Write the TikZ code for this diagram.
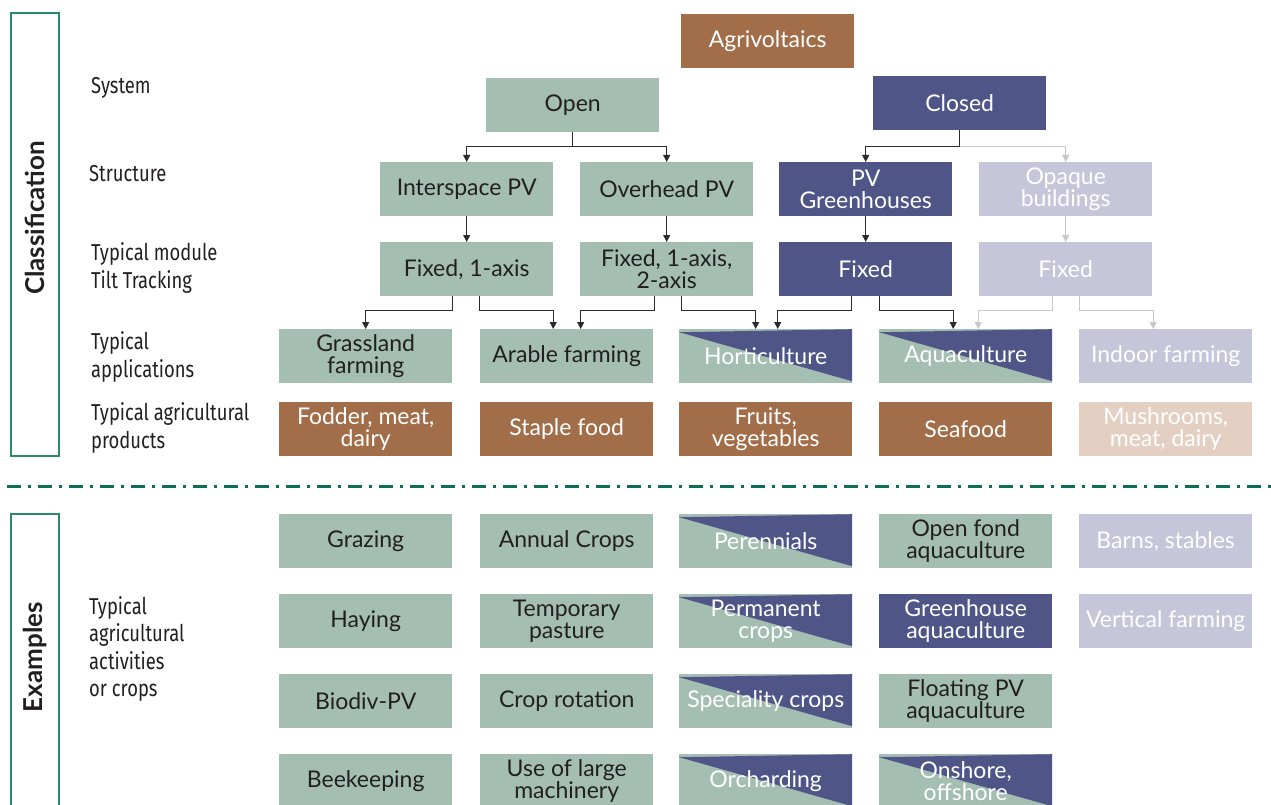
\documentclass[tikz,border=0pt]{standalone}
\usepackage{fontspec}
\setmainfont{Lato}
\newfontfamily\labelfont[FakeStretch=0.8]{Fira Sans}
\usetikzlibrary{arrows.meta,calc}
\definecolor{sage}{HTML}{A4BFB2}
\definecolor{navy}{HTML}{4F5587}
\definecolor{lav}{HTML}{C5C6DA}
\definecolor{brn}{HTML}{A26E4A}
\definecolor{lbrn}{HTML}{E3D0C3}
\definecolor{dgreen}{HTML}{0E6E55}
\definecolor{framec}{HTML}{2A8A6C}
\definecolor{txt}{HTML}{231F20}
\definecolor{arrowc}{HTML}{2B2B2B}
\definecolor{garrowc}{HTML}{C8C8C8}
\tikzset{
  box/.style={minimum width=173pt, minimum height=54pt, inner sep=0pt, align=center,
    anchor=north west, font=\fontsize{23}{21.5}\selectfont},
  gbox/.style={box, fill=sage, text=txt},
  nbox/.style={box, fill=navy, text=white},
  lbox/.style={box, fill=lav, text=white},
  bbox/.style={box, fill=brn, text=white},
  lbbox/.style={box, fill=lbrn, text=white},
  sbox/.style={box, fill=sage, text=white, path picture={
      \fill[navy] ([yshift=-3pt]path picture bounding box.north west) -- (path picture bounding box.north east)
        -- ([yshift=2pt]path picture bounding box.south east) -- cycle;}},
  arr/.style={draw=arrowc, line width=1.1pt, -{Triangle[width=7pt,length=7pt]}},
  garr/.style={arr, draw=garrowc},
  lab/.style={anchor=west, align=left, inner sep=0pt, text=txt, font=\labelfont\fontsize{23}{27.5}\selectfont},
  vlab/.style={rotate=90, text=txt, inner sep=0pt, font=\bfseries\fontsize{26}{26}\selectfont},
  frm/.style={draw=framec, line width=1.2pt}
}
\begin{document}
\begin{tikzpicture}[x=1pt,y=-1pt]
\useasboundingbox (0,0) rectangle (1271,805);
\clip (0,0) rectangle (1271,805);
% frames and side labels
\draw[frm] (11,13) rectangle (59,456);
\draw[frm] (11,514) rectangle (59,830);
\node[vlab] (cls) at (35,218) {Classification};
\node[vlab] (exm) at (35,657) {Examples};
\draw[dgreen, line width=3pt, dash pattern=on 14pt off 7pt on 3pt off 7pt] (7,486) -- (1271,486);
% row labels
\node[lab] (l1) at (91,88) {System};
\node[lab] (l2) at (89,174) {Structure};
\node[lab] (l3) at (91,268) {Typical module\\Tilt Tracking};
\node[lab] (l4) at (91,357) {Typical\\applications};
\node[lab] (l5) at (91,428) {Typical agricultural\\products};
\node[lab] (l6) at (89,649) {Typical\\agricultural\\activities\\or crops};
% hierarchy
\node[bbox] (agri) at (681,14) {Agrivoltaics};
\node[gbox] (open) at (486,78) {Open};
\node[nbox] (closed) at (873,76) {Closed};
\node[gbox] (s1) at (380,162) {Interspace PV};
\node[gbox] (s2) at (580,162) {Overhead PV};
\node[nbox] (s3) at (779,162) {PV\\Greenhouses};
\node[lbox] (s4) at (979,162) {Opaque\\buildings};
\node[gbox] (t1) at (380,242) {Fixed, 1-axis};
\node[gbox] (t2) at (580,242) {Fixed, 1-axis,\\2-axis};
\node[nbox] (t3) at (779,242) {Fixed};
\node[lbox] (t4) at (979,242) {Fixed};
\node[gbox] (a1) at (279,329) {Grassland\\farming};
\node[gbox] (a2) at (480,329) {Arable farming};
\node[sbox] (a3) at (679,329) {Horticulture};
\node[sbox] (a4) at (879,329) {Aquaculture};
\node[lbox] (a5) at (1079,329) {Indoor farming};
\node[bbox] (p1) at (279,402) {Fodder, meat,\\dairy};
\node[bbox] (p2) at (480,402) {Staple food};
\node[bbox] (p3) at (679,402) {Fruits,\\vegetables};
\node[bbox] (p4) at (879,402) {Seafood};
\node[lbbox] (p5) at (1079,402) {Mushrooms,\\meat, dairy};
% examples
\node[gbox] (e11) at (279,514) {Grazing};
\node[gbox] (e12) at (279,594) {Haying};
\node[gbox] (e13) at (279,674) {Biodiv-PV};
\node[gbox] (e14) at (279,754) {Beekeeping};
\node[gbox] (e21) at (480,514) {Annual Crops};
\node[gbox] (e22) at (480,594) {Temporary\\pasture};
\node[gbox] (e23) at (480,674) {Crop rotation};
\node[gbox] (e24) at (480,754) {Use of large\\machinery};
\node[sbox] (e31) at (679,514) {Perennials};
\node[sbox] (e32) at (679,594) {Permanent\\crops};
\node[sbox] (e33) at (679,674) {Speciality crops};
\node[sbox] (e34) at (679,754) {Orcharding};
\node[gbox] (e41) at (879,514) {Open fond\\aquaculture};
\node[nbox] (e42) at (879,594) {Greenhouse\\aquaculture};
\node[gbox] (e43) at (879,674) {Floating PV\\aquaculture};
\node[sbox] (e44) at (879,754) {Onshore,\\offshore};
\node[lbox] (e51) at (1079,514) {Barns, stables};
\node[lbox] (e52) at (1079,594) {Vertical farming};
% connectors
\draw[arr] (open.south) -- ++(0,14) -| (s1.north);
\draw[arr] (open.south) -- ++(0,14) -| (s2.north);
\draw[arr] (closed.south) -- ++(0,16) -| (s3.north);
\draw[garr] ([yshift=-16pt]closed.south) -| (s4.north);
\draw[arr] (s1.south) -- (t1.north);
\draw[arr] (s2.south) -- (t2.north);
\draw[arr] (s3.south) -- (t3.north);
\draw[garr] (s4.south) -- (t4.north);
\draw[arr] ([xshift=-14pt]t1.south) -- ++(0,14) -| (a1.north);
\draw[arr] ([xshift=13pt]t1.south) -- ++(0,14) -| ([xshift=-13.5pt]a2.north);
\draw[arr] ([xshift=-12pt]t2.south) -- ++(0,14) -| ([xshift=14pt]a2.north);
\draw[arr] ([xshift=15pt]t2.south) -- ++(0,14) -| ([xshift=-10pt]a3.north);
\draw[arr] ([xshift=-14pt]t3.south) -- ++(0,14) -| ([xshift=12pt]a3.north);
\draw[arr] ([xshift=13.5pt]t3.south) -- ++(0,14) -| ([xshift=-12.5pt]a4.north);
\draw[garr] ([xshift=-13.5pt]t4.south) -- ++(0,14) -| ([xshift=12.5pt]a4.north);
\draw[garr] ([xshift=14pt]t4.south) -- ++(0,14) -| ([xshift=-12.5pt]a5.north);
\end{tikzpicture}
\end{document}
